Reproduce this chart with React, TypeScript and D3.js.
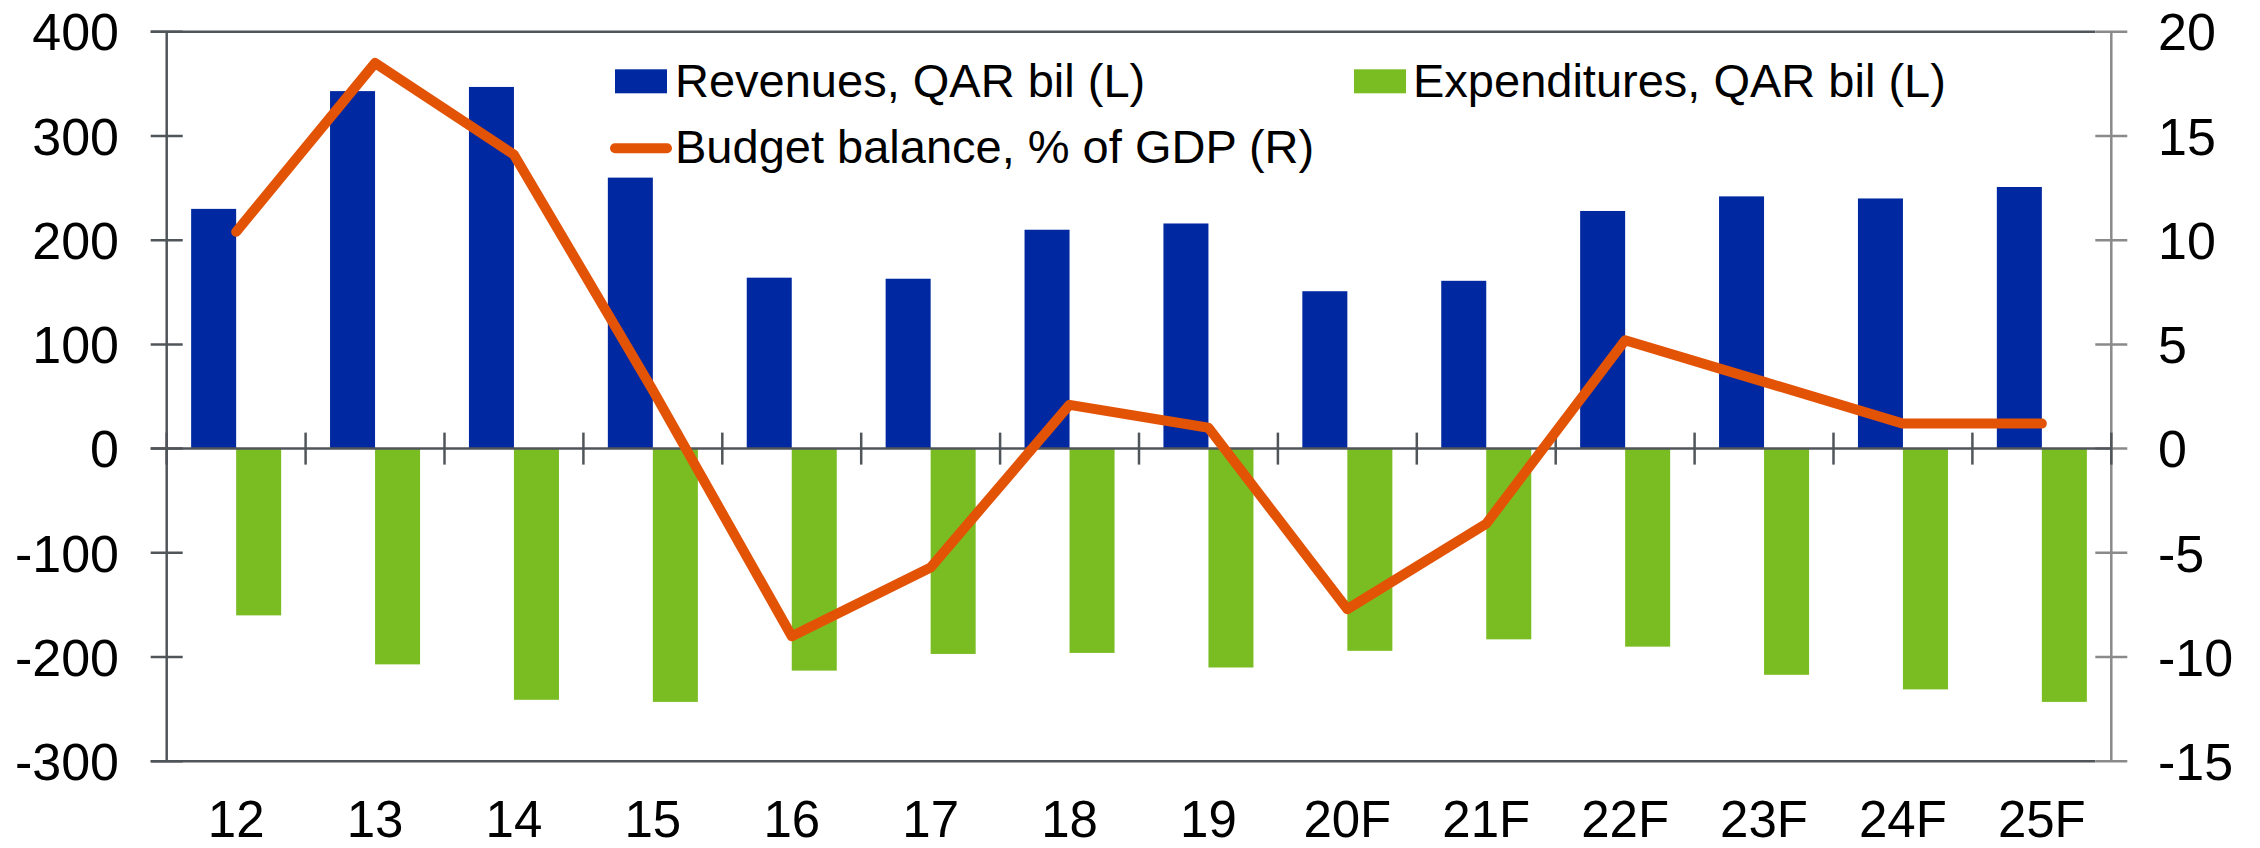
import React from "react";
import * as d3 from "d3";

const categories = ["12", "13", "14", "15", "16", "17", "18", "19", "20F", "21F", "22F", "23F", "24F", "25F"];
const revenues = [230, 343, 347, 260, 164, 163, 210, 216, 151, 161, 228, 242, 240, 251];
const expenditures = [-160, -207, -241, -243, -213, -197, -196, -210, -194, -183, -190, -217, -231, -243];
const budgetBalance = [10.4, 18.5, 14.1, 2.8, -9.0, -5.7, 2.1, 1.0, -7.7, -3.6, 5.2, 3.2, 1.2, 1.2];
const leftTicks = [400, 300, 200, 100, 0, -100, -200, -300];
const rightTicks = [20, 15, 10, 5, 0, -5, -10, -15];
const seriesNames = ["Revenues, QAR bil (L)", "Expenditures, QAR bil (L)", "Budget balance, % of GDP (R)"];

const W = 2260;
const H = 848;
const L = 166.7;
const R = 2111.3;
const T = 31.7;
const B = 761.3;
const FONT = "'Liberation Sans', Arial, sans-serif";
const BLUE = "#0028a0";
const GREEN = "#7abd22";
const ORANGE = "#e35306";
const DARK = "#50555a";
const GRAY = "#8a8a8a";

export default function App() {
  const x = d3.scaleBand<string>().domain(categories).range([L, R]).padding(0);
  const bw = x.bandwidth();
  const x1 = d3.scaleBand<string>().domain(["rev", "exp"]).range([0, bw]).paddingInner(0).paddingOuter(0.543);
  const yL = d3.scaleLinear().domain([-300, 400]).range([B, T]);
  const yR = d3.scaleLinear().domain([-15, 20]).range([B, T]);
  const zero = yL(0);
  const line = d3
    .line<number>()
    .x((_, i) => (x(categories[i]) as number) + bw / 2)
    .y((d) => yR(d));

  return (
    <svg width={W} height={H} style={{ position: "absolute", left: 0, top: 0, display: "block", background: "#fff" }}>
      {/* bars */}
      {categories.map((c, i) => (
        <g key={c}>
          <rect
            x={(x(c) as number) + (x1("rev") as number)}
            y={yL(revenues[i])}
            width={x1.bandwidth()}
            height={zero - yL(revenues[i])}
            fill={BLUE}
          />
          <rect
            x={(x(c) as number) + (x1("exp") as number)}
            y={zero}
            width={x1.bandwidth()}
            height={yL(expenditures[i]) - zero}
            fill={GREEN}
          />
        </g>
      ))}

      {/* top & bottom border lines */}
      <line x1={L - 16} x2={R - 16} y1={T} y2={T} stroke={DARK} strokeWidth={2.5} />
      <line x1={L - 16} x2={R - 16} y1={B} y2={B} stroke={DARK} strokeWidth={2.5} />

      {/* left axis */}
      <line x1={L} x2={L} y1={T} y2={B} stroke={DARK} strokeWidth={2.5} />
      {leftTicks.map((t) => (
        <g key={"l" + t}>
          <line x1={L - 16} x2={L + 16} y1={yL(t)} y2={yL(t)} stroke={DARK} strokeWidth={2.5} />
          <text x={119} y={yL(t)} dy="0.36em" textAnchor="end" fontFamily={FONT} fontSize={52} fill="#000">
            {t}
          </text>
        </g>
      ))}

      {/* right axis */}
      <line x1={R} x2={R} y1={T} y2={B} stroke={GRAY} strokeWidth={2.5} />
      {rightTicks.map((t) => (
        <g key={"r" + t}>
          <line x1={R - 16} x2={R + 16} y1={yR(t)} y2={yR(t)} stroke={GRAY} strokeWidth={2.5} />
          <text x={2158} y={yR(t)} dy="0.36em" textAnchor="start" fontFamily={FONT} fontSize={52} fill="#000">
            {t}
          </text>
        </g>
      ))}

      {/* zero category axis */}
      <line x1={L - 16} x2={R} y1={zero} y2={zero} stroke={DARK} strokeWidth={2.5} />
      {d3.range(categories.length + 1).map((k) => (
        <line
          key={"ct" + k}
          x1={L + k * bw}
          x2={L + k * bw}
          y1={zero - 16}
          y2={zero + 16}
          stroke={DARK}
          strokeWidth={2.5}
        />
      ))}
      {categories.map((c) => (
        <text
          key={"xl" + c}
          x={(x(c) as number) + bw / 2}
          y={837}
          textAnchor="middle"
          fontFamily={FONT}
          fontSize={51}
          fill="#000"
        >
          {c}
        </text>
      ))}

      {/* budget balance line */}
      <path
        d={line(budgetBalance) || ""}
        fill="none"
        stroke={ORANGE}
        strokeWidth={10}
        strokeLinejoin="round"
        strokeLinecap="round"
      />

      {/* legend */}
      <rect x={615} y={69.3} width={52} height={24} fill={BLUE} />
      <text x={675} y={96.7} fontFamily={FONT} fontSize={47} fill="#000">
        {seriesNames[0]}
      </text>
      <rect x={1354} y={69.3} width={52} height={24} fill={GREEN} />
      <text x={1413} y={96.7} fontFamily={FONT} fontSize={47} fill="#000">
        {seriesNames[1]}
      </text>
      <line x1={615} x2={667} y1={148.3} y2={148.3} stroke={ORANGE} strokeWidth={10} strokeLinecap="round" />
      <text x={675} y={163} fontFamily={FONT} fontSize={47} fill="#000">
        {seriesNames[2]}
      </text>
    </svg>
  );
}
